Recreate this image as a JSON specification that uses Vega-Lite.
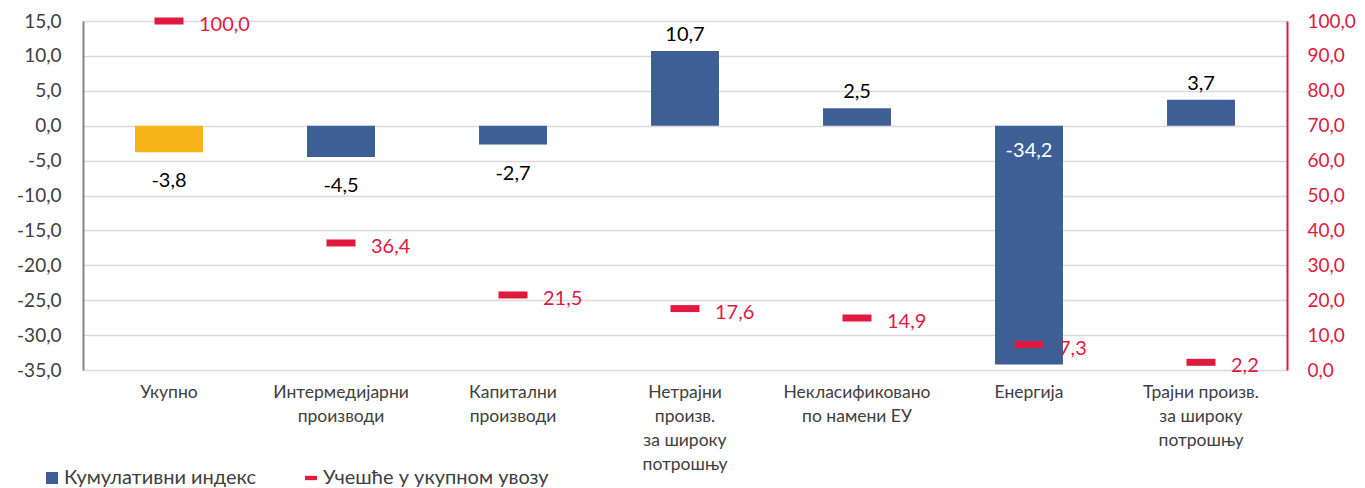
{
  "$schema": "https://vega.github.io/schema/vega-lite/v6.json",
  "width": 1204,
  "height": 349,
  "autosize": "none",
  "padding": {"left": 83, "top": 21, "right": 78, "bottom": 118},
  "config": {
    "locale": {"number": {"decimal": ",", "thousands": ".", "grouping": [3], "currency": ["", ""], "minus": "-"}},
    "font": "Lato",
    "view": {"stroke": null},
    "axis": {"labelFont": "Lato", "titleFont": "Lato", "labelOverlap": false, "labelFlush": false},
    "legend": {"labelFont": "Lato"}
  },
  "data": {
    "values": [
      {"cat": "Укупно", "index": -3.8, "share": 100.0, "s1": "Кумулативни индекс", "s2": "Учешће у укупном увозу"},
      {"cat": "Интермедијарни\nпроизводи", "index": -4.5, "share": 36.4, "s1": "Кумулативни индекс", "s2": "Учешће у укупном увозу"},
      {"cat": "Капитални\nпроизводи", "index": -2.7, "share": 21.5, "s1": "Кумулативни индекс", "s2": "Учешће у укупном увозу"},
      {"cat": "Нетрајни\nпроизв.\nза широку\nпотрошњу", "index": 10.7, "share": 17.6, "s1": "Кумулативни индекс", "s2": "Учешће у укупном увозу"},
      {"cat": "Некласификовано\nпо намени ЕУ", "index": 2.5, "share": 14.9, "s1": "Кумулативни индекс", "s2": "Учешће у укупном увозу"},
      {"cat": "Енергија", "index": -34.2, "share": 7.3, "s1": "Кумулативни индекс", "s2": "Учешће у укупном увозу"},
      {"cat": "Трајни произв.\nза широку\nпотрошњу", "index": 3.7, "share": 2.2, "s1": "Кумулативни индекс", "s2": "Учешће у укупном увозу"}
    ]
  },
  "encoding": {
    "x": {
      "field": "cat", "type": "nominal", "sort": null,
      "scale": {"paddingInner": 0.605, "paddingOuter": 0.3025},
      "axis": {
        "title": null, "labelAngle": 0, "domain": false, "ticks": false,
        "labelExpr": "split(datum.label, '\\n')",
        "labelFontSize": 17.5, "labelColor": "#404040", "labelPadding": 13,
        "labelLineHeight": 24, "labelBaseline": "top", "labelLimit": 300
      }
    }
  },
  "layer": [
    {
      "layer": [
        {
          "mark": {"type": "bar"},
          "encoding": {
            "y": {
              "field": "index", "type": "quantitative",
              "scale": {"domain": [-35, 15], "nice": false, "zero": false},
              "axis": {
                "title": null, "values": [-35, -30, -25, -20, -15, -10, -5, 0, 5, 10, 15],
                "tickCount": 11, "labelOverlap": false,
                "format": ".1f", "labelFontSize": 19, "labelColor": "#404040",
                "ticks": false, "labelPadding": 22, "domainColor": "#868686", "domainWidth": 2,
                "gridColor": "#d9d9d9", "gridWidth": 1.5
              }
            },
            "color": {
              "condition": {"test": "datum.cat === 'Укупно'", "value": "#F5B317"},
              "field": "s1", "type": "nominal",
              "scale": {"domain": ["Кумулативни индекс", "Учешће у укупном увозу"], "range": ["#3D5F96", "#E0193F"]},
              "legend": {
                "title": null, "orient": "none", "direction": "horizontal",
                "legendX": -41, "legendY": 447,
                "labelFontSize": 20, "labelColor": "#404040", "symbolSize": 144,
                "columnPadding": 44, "labelOffset": 2, "symbolStrokeWidth": 0,
                "labelLimit": 400,
                "encode": {
                  "symbols": {
                    "update": {
                      "shape": {"signal": "datum.value === 'Кумулативни индекс' ? 'square' : 'M-1,-0.36H1V0.36H-1Z'"},
                      "fill": {"signal": "datum.value === 'Кумулативни индекс' ? '#3D5F96' : '#E0193F'"},
                      "strokeWidth": {"value": 0},
                      "opacity": {"value": 1}
                    }
                  }
                }
              }
            }
          }
        },
        {
          "mark": {"type": "rule", "color": "#868686", "strokeWidth": 2},
          "encoding": {"y": {"datum": 0, "type": "quantitative"}}
        },
        {
          "transform": [{"filter": "datum.index >= 0"}],
          "mark": {"type": "text", "baseline": "bottom", "dy": -6, "fontSize": 20, "color": "#000000"},
          "encoding": {
            "y": {"field": "index", "type": "quantitative"},
            "text": {"field": "index", "type": "quantitative", "format": ".1f"}
          }
        },
        {
          "transform": [{"filter": "datum.index < 0 && datum.index > -30"}],
          "mark": {"type": "text", "baseline": "top", "dy": 19, "fontSize": 20, "color": "#000000"},
          "encoding": {
            "y": {"field": "index", "type": "quantitative"},
            "text": {"field": "index", "type": "quantitative", "format": ".1f"}
          }
        },
        {
          "transform": [{"filter": "datum.index <= -30"}],
          "mark": {"type": "text", "baseline": "top", "dy": 15, "fontSize": 20, "color": "#ffffff"},
          "encoding": {
            "y": {"datum": 0, "type": "quantitative"},
            "text": {"field": "index", "type": "quantitative", "format": ".1f"}
          }
        }
      ]
    },
    {
      "layer": [
        {
          "mark": {"type": "tick", "thickness": 7, "size": 29, "opacity": 1},
          "encoding": {
            "y": {
              "field": "share", "type": "quantitative",
              "scale": {"domain": [0, 100], "nice": false},
              "axis": {
                "orient": "right", "title": null,
                "values": [0, 10, 20, 30, 40, 50, 60, 70, 80, 90, 100],
                "tickCount": 11, "labelOverlap": false,
                "format": ".1f", "labelFontSize": 19, "labelColor": "#E0193F",
                "ticks": false, "labelPadding": 20, "domainColor": "#E0193F", "domainWidth": 2,
                "grid": false
              }
            },
            "color": {"field": "s2", "type": "nominal"}
          }
        },
        {
          "mark": {"type": "text", "align": "left", "baseline": "middle", "dx": 30, "dy": 4, "fontSize": 20, "color": "#E0193F"},
          "encoding": {
            "y": {"field": "share", "type": "quantitative"},
            "text": {"field": "share", "type": "quantitative", "format": ".1f"}
          }
        }
      ]
    }
  ],
  "resolve": {"scale": {"y": "independent"}}
}
